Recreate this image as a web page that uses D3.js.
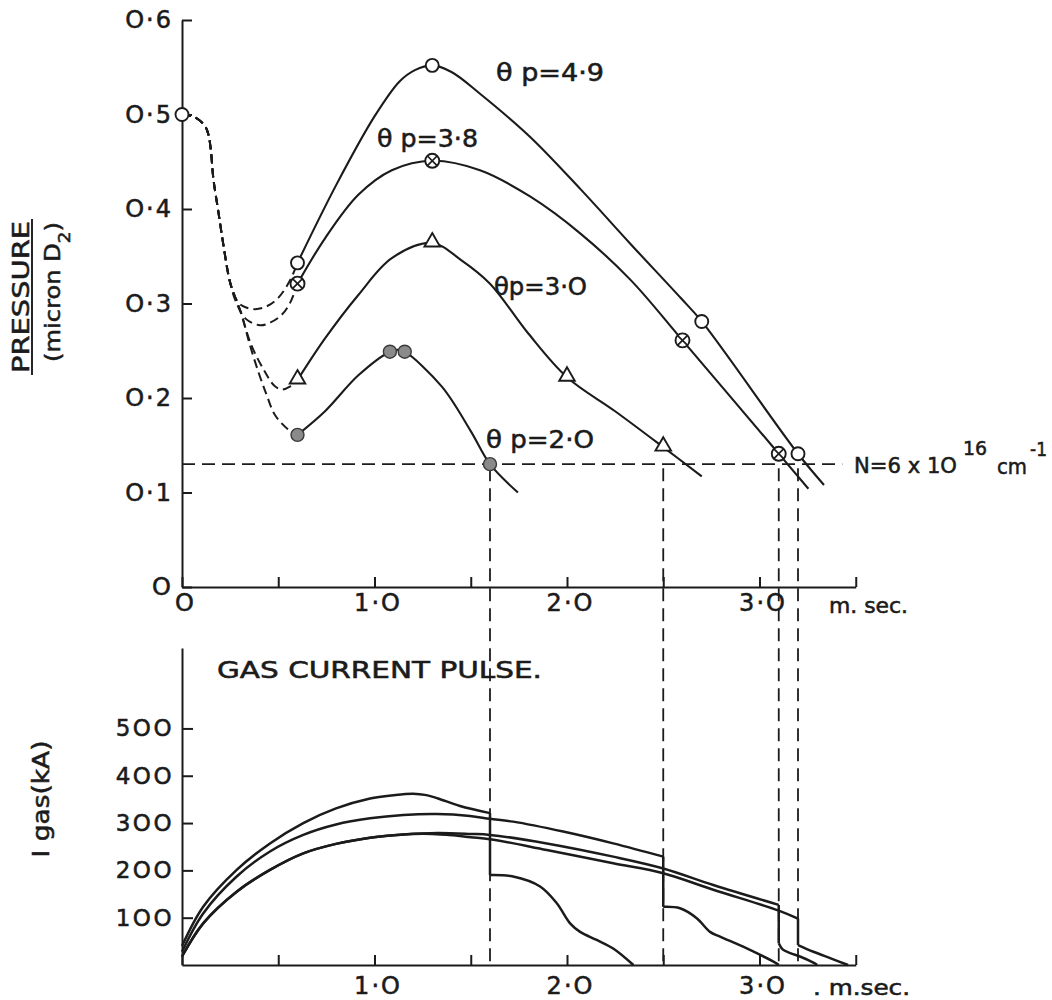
<!DOCTYPE html>
<html>
<head>
<meta charset="utf-8">
<script src="https://cdn.jsdelivr.net/npm/d3@7"></script>
<style>
  body { margin: 0; background: #fff; }
  svg { display: block; }
</style>
</head>
<body>
<svg id="chart" width="1052" height="1000"></svg>
<script>
// ---- data ----
// time in m.sec., pressure in micron D2
var pTicks = [0, 0.1, 0.2, 0.3, 0.4, 0.5, 0.6];
var pTickText = ["O", "O·1", "O·2", "O·3", "O·4", "O·5", "O·6"];
var tTicks = [0, 0.5, 1, 1.5, 2, 2.5, 3, 3.5];
var tTickText = ["O", "", "1·O", "", "2·O", "", "3·O", ""];
var iTicks = [100, 200, 300, 400, 500];
var iTickText = ["1OO", "2OO", "3OO", "4OO", "5OO"];

var cutTimes = [1.6, 2.5, 3.1, 3.2];
var densityLevel = 0.13;

// dashed start, shared by all four runs
var trunk = [[0, 0.5], [0.068, 0.497], [0.119, 0.488], [0.137, 0.479], [0.15, 0.462],
  [0.163, 0.432], [0.189, 0.397], [0.215, 0.362], [0.249, 0.323]];
var dash49 = [[0.293, 0.301], [0.33, 0.296], [0.38, 0.294], [0.44, 0.297], [0.5, 0.306], [0.56, 0.324], [0.6, 0.343]];
var dash38 = [[0.28, 0.302], [0.33, 0.284], [0.405, 0.277], [0.46, 0.28], [0.518, 0.288], [0.56, 0.3], [0.6, 0.321]];
var dash30 = [[0.27, 0.31], [0.3, 0.294], [0.36, 0.256], [0.43, 0.228], [0.48, 0.213], [0.52, 0.209], [0.56, 0.212], [0.6, 0.219]];
var dash20 = [[0.27, 0.31], [0.31, 0.288], [0.35, 0.258], [0.396, 0.228], [0.44, 0.203], [0.483, 0.182], [0.55, 0.167], [0.6, 0.161]];

var solid49 = [[0.6, 0.343], [0.8, 0.425], [1.0, 0.498], [1.13, 0.535], [1.21, 0.547], [1.3, 0.552], [1.4, 0.545],
  [1.548, 0.522], [1.81, 0.476], [2.07, 0.421], [2.33, 0.363], [2.59, 0.306], [2.7, 0.281], [3.2, 0.141], [3.335, 0.108]];
var solid38 = [[0.6, 0.321], [0.743, 0.369], [0.916, 0.415], [1.09, 0.441], [1.3, 0.451], [1.548, 0.441], [1.81, 0.413],
  [2.07, 0.374], [2.33, 0.325], [2.6, 0.261], [3.1, 0.141], [3.254, 0.104]];
var solid30 = [[0.6, 0.219], [0.743, 0.263], [0.916, 0.309], [1.09, 0.348], [1.3, 0.364], [1.45, 0.346], [1.6, 0.321],
  [1.8, 0.268], [2.0, 0.222], [2.25, 0.186], [2.5, 0.148], [2.7, 0.117]];
var solid20 = [[0.6, 0.161], [0.743, 0.186], [0.916, 0.224], [1.08, 0.249], [1.12, 0.251], [1.157, 0.249],
  [1.35, 0.212], [1.5, 0.165], [1.6, 0.13], [1.745, 0.1]];

var marks49 = [[0, 0.5], [0.6, 0.343], [1.3, 0.552], [2.7, 0.281], [3.2, 0.141]];
var marks38 = [[0.6, 0.321], [1.3, 0.451], [2.6, 0.261], [3.1, 0.141]];
var marks30 = [[0.6, 0.219], [1.3, 0.364], [2.0, 0.222], [2.5, 0.148]];
var marks20 = [[0.6, 0.161], [1.08, 0.249], [1.157, 0.249], [1.6, 0.13]];

// gas current (kA), before and after each cut
var gas16Pre = [[0, 40], [0.11, 123], [0.284, 201], [0.457, 257], [0.63, 300], [0.8, 331], [0.977, 352],
  [1.1, 359], [1.2, 362], [1.27, 359], [1.33, 352], [1.444, 336], [1.6, 321]];
var gas16Post = [[1.6, 190], [1.72, 187], [1.86, 166], [1.946, 131], [2.016, 88], [2.068, 70], [2.154, 53], [2.24, 35], [2.345, 0]];
var gas25Pre = [[0, 28], [0.11, 109], [0.284, 187], [0.457, 240], [0.63, 275], [0.8, 297], [0.977, 310], [1.15, 317],
  [1.323, 319], [1.496, 315], [1.6, 309], [1.72, 303], [1.98, 282], [2.24, 257], [2.5, 229]];
var gas25Post = [[2.5, 123], [2.587, 120], [2.674, 99], [2.743, 70], [2.795, 60], [2.934, 35], [3.09, 3], [3.1, 0]];
var gas31Pre = [[0, 18], [0.11, 88], [0.284, 155], [0.457, 201], [0.63, 236], [0.8, 256], [0.977, 269], [1.15, 276],
  [1.33, 279], [1.5, 277], [1.6, 275], [1.895, 257], [2.24, 229], [2.5, 204], [2.76, 169], [3.1, 127]];
var gas31Post = [[3.1, 46], [3.12, 33], [3.16, 25], [3.21, 18], [3.28, 5], [3.3, 0]];
var gas32Pre = [[0, 18], [0.11, 88], [0.284, 155], [0.457, 201], [0.63, 236], [0.8, 256], [0.977, 269], [1.15, 276],
  [1.3, 277], [1.41, 274], [1.5, 270], [1.6, 266], [1.895, 243], [2.24, 215], [2.5, 194], [2.76, 159], [3.1, 115], [3.2, 98]];
var gas32Post = [[3.2, 42], [3.28, 28], [3.37, 14], [3.46, 0]];

// ---- drawing ----
var ink = "#1b1b1b";
var font = "'DejaVu Sans', sans-serif";
var svg = d3.select("#chart");

var x = d3.scaleLinear().domain([0, 3.5]).range([182, 855.75]);
var yP = d3.scaleLinear().domain([0, 0.6]).range([587, 20]);
var yI = d3.scaleLinear().domain([0, 670]).range([965, 648]);

var smooth = d3.curveCatmullRom.alpha(0.5);
var lineP = d3.line().x(function (d) { return x(d[0]); }).y(function (d) { return yP(d[1]); }).curve(smooth);
var lineI = d3.line().x(function (d) { return x(d[0]); }).y(function (d) { return yI(d[1]); }).curve(smooth);

function heavy(sel) {
  sel.attr("stroke", ink).attr("stroke-width", 0.55).attr("paint-order", "stroke");
}

function styleAxis(g, size, spacing) {
  g.attr("color", ink);
  g.selectAll("path, line").attr("stroke-width", 2);
  g.selectAll("text").attr("font-family", font).attr("font-size", size).attr("letter-spacing", spacing).call(heavy);
}

// top axes
svg.append("g")
  .attr("transform", "translate(" + x(0) + ",0)")
  .call(d3.axisLeft(yP).tickValues(pTicks).tickSizeInner(-10).tickSizeOuter(0).tickPadding(9)
    .tickFormat(function (d, i) { return pTickText[i]; }))
  .call(styleAxis, 24, 2);

svg.append("g")
  .attr("transform", "translate(0," + yP(0) + ")")
  .call(d3.axisBottom(x).tickValues(tTicks).tickSizeInner(-10).tickSizeOuter(0).tickPadding(7)
    .tickFormat(function (d, i) { return tTickText[i]; }))
  .call(styleAxis, 24, 2)
  .selectAll("text").attr("dx", 3);

// bottom axes
svg.append("g")
  .attr("transform", "translate(" + x(0) + ",0)")
  .call(d3.axisLeft(yI).tickValues(iTicks).tickSizeInner(-11).tickSizeOuter(0).tickPadding(8)
    .tickFormat(function (d, i) { return iTickText[i]; }))
  .call(styleAxis, 23, 2.5);

svg.append("g")
  .attr("transform", "translate(0," + yI(0) + ")")
  .call(d3.axisBottom(x).tickValues(tTicks).tickSizeInner(-10).tickSizeOuter(0).tickPadding(12)
    .tickFormat(function (d, i) { return i === 0 ? "" : tTickText[i]; }))
  .call(styleAxis, 24, 2)
  .selectAll("text").attr("dx", 3);

// dashed guides
svg.append("line")
  .attr("x1", x(0)).attr("x2", x(3.43))
  .attr("y1", yP(densityLevel)).attr("y2", yP(densityLevel))
  .attr("stroke", ink).attr("stroke-width", 1.8).attr("stroke-dasharray", "13,7");

svg.selectAll(".cut").data(cutTimes).enter().append("line")
  .attr("class", "cut")
  .attr("x1", function (d) { return x(d); }).attr("x2", function (d) { return x(d); })
  .attr("y1", yP(densityLevel) + 4).attr("y2", yI(0))
  .attr("stroke", ink).attr("stroke-width", 1.8).attr("stroke-dasharray", "13,7");

// pressure curves
[dash49, dash38, dash30, dash20].forEach(function (b) {
  svg.append("path").attr("d", lineP(trunk.concat(b)))
    .attr("fill", "none").attr("stroke", ink).attr("stroke-width", 2).attr("stroke-dasharray", "9,5");
});
[solid49, solid38, solid30, solid20].forEach(function (s) {
  svg.append("path").attr("d", lineP(s))
    .attr("fill", "none").attr("stroke", ink).attr("stroke-width", 2.1);
});

// gas current curves with their drops
[[gas16Pre, gas16Post], [gas25Pre, gas25Post], [gas31Pre, gas31Post], [gas32Pre, gas32Post]].forEach(function (p) {
  var pre = p[0], post = p[1];
  svg.append("path").attr("d", lineI(pre))
    .attr("fill", "none").attr("stroke", ink).attr("stroke-width", 2.5);
  svg.append("line")
    .attr("x1", x(pre[pre.length - 1][0])).attr("x2", x(post[0][0]))
    .attr("y1", yI(pre[pre.length - 1][1])).attr("y2", yI(post[0][1]))
    .attr("stroke", ink).attr("stroke-width", 2.5);
  svg.append("path").attr("d", lineI(post))
    .attr("fill", "none").attr("stroke", ink).attr("stroke-width", 2.5);
});

// markers
svg.selectAll(".m49").data(marks49).enter().append("circle")
  .attr("cx", function (d) { return x(d[0]); }).attr("cy", function (d) { return yP(d[1]); })
  .attr("r", 6.5).attr("fill", "#fff").attr("stroke", ink).attr("stroke-width", 1.9);

var m38 = svg.selectAll(".m38").data(marks38).enter().append("g")
  .attr("transform", function (d) { return "translate(" + x(d[0]) + "," + yP(d[1]) + ")"; });
m38.append("circle").attr("r", 7).attr("fill", "#fff").attr("stroke", ink).attr("stroke-width", 1.9);
m38.append("path").attr("d", "M-4.8,-4.8L4.8,4.8M-4.8,4.8L4.8,-4.8").attr("stroke", ink).attr("stroke-width", 1.7);

svg.selectAll(".m30").data(marks30).enter().append("path")
  .attr("transform", function (d) { return "translate(" + x(d[0]) + "," + (yP(d[1]) - 1) + ")"; })
  .attr("d", d3.symbol(d3.symbolTriangle).size(105)())
  .attr("fill", "#fff").attr("stroke", ink).attr("stroke-width", 1.9);

svg.selectAll(".m20").data(marks20).enter().append("circle")
  .attr("cx", function (d) { return x(d[0]); }).attr("cy", function (d) { return yP(d[1]); })
  .attr("r", 6.5).attr("fill", "#8a8a8a").attr("stroke", "#3a3a3a").attr("stroke-width", 1.4);

// texts
function label(t, px, py, size, len, rot) {
  var el = svg.append("text")
    .attr("font-family", font).attr("font-size", size).attr("fill", ink)
    .call(heavy)
    .text(t);
  if (len) el.attr("textLength", len).attr("lengthAdjust", "spacingAndGlyphs");
  if (rot) {
    el.attr("text-anchor", "middle").attr("transform", "translate(" + px + "," + py + ") rotate(-90)");
  } else {
    el.attr("x", px).attr("y", py);
  }
  return el;
}

label("θ p=4·9", 496, 81, 24, 108);
label("θ p=3·8", 377, 147, 24, 101);
label("θp=3·O", 494, 295, 24, 93);
label("θ p=2·O", 486, 448, 24, 108);

label("N=6 x 1O", 854, 473, 22, 103);
label("16", 963, 455, 20, 24);
label("cm", 997, 474, 22, 30);
label("-1", 1030, 456, 20, 17);

label("m. sec.", 829, 613, 21, 79);
label(". m.sec.", 813, 995, 21, 97);

label("GAS CURRENT PULSE.", 217, 678, 23, 325);

label("PRESSURE", 28.5, 297, 23, 152, true);
svg.append("line").attr("x1", 32).attr("x2", 32).attr("y1", 219).attr("y2", 375)
  .attr("stroke", ink).attr("stroke-width", 1.9);
var mic = label("", 60, 292, 21, 140, true);
mic.append("tspan").text("(micron D");
mic.append("tspan").attr("baseline-shift", "sub").attr("font-size", 16).text("2");
mic.append("tspan").text(")");

label("I gas(kA)", 49, 799, 23, 117, true);
</script>
</body>
</html>
